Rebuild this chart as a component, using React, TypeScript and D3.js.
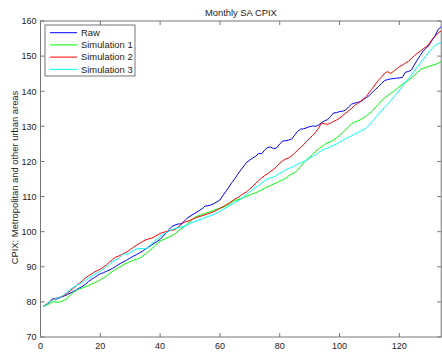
import React, { useEffect, useRef } from 'react';
import { select, scaleLinear, line } from 'd3';

// monthly index values, months 1..134
const raw = [
  78.7, 79.2, 79.8, 80.9, 80.7, 81.0, 81.4, 81.7, 82.1, 82.5,
  83.0, 83.4, 84.0, 84.4, 85.0, 85.8, 86.4, 86.9, 87.5, 88.0,
  88.3, 88.7, 89.1, 89.5, 90.0, 90.6, 91.1, 91.5, 92.0, 92.5,
  93.0, 93.4, 93.9, 94.4, 95.0, 95.5, 96.1, 96.7, 97.2, 97.8,
  98.7, 99.6, 100.6, 101.5, 101.9, 102.2, 102.2, 102.9, 103.8, 104.4,
  104.9, 105.4, 106.0, 106.5, 107.3, 107.4, 107.6, 108.0, 108.5, 109.0,
  110.3, 111.5, 112.7, 114.0, 115.1, 116.4, 117.6, 118.7, 119.8, 120.4,
  121.0, 121.5, 122.3, 122.2, 123.3, 124.0, 124.1, 123.6, 123.9, 125.0,
  125.8, 125.9, 126.1, 126.4, 127.5, 128.6, 129.2, 129.3, 129.6, 129.9,
  130.1, 130.0, 130.4, 131.0, 131.6, 131.9, 132.8, 133.8, 133.9, 134.2,
  134.3, 134.6, 135.5, 136.3, 136.6, 136.8, 137.0, 137.6, 138.2, 138.8,
  139.7, 140.5, 141.3, 142.2, 143.0, 143.3, 143.5, 143.6, 143.7, 143.8,
  143.9, 145.4, 145.6, 146.0, 147.5, 148.9, 150.2, 151.5, 152.3, 153.2,
  154.6, 155.9, 157.6, 158.4,
];

const sim1 = [
  78.7, 79.1, 79.5, 80.0, 80.0, 79.9, 80.1, 80.5, 81.0, 82.0,
  82.7, 83.3, 83.7, 84.0, 84.3, 84.6, 85.0, 85.4, 85.8, 86.3,
  86.8, 87.4, 88.0, 88.6, 89.2, 89.7, 90.2, 90.7, 91.1, 91.5,
  91.8, 92.1, 92.4, 92.9, 93.6, 94.3, 95.0, 95.8, 96.5, 97.3,
  97.7, 98.1, 98.5, 98.9, 99.4, 100.2, 100.8, 101.4, 102.1, 102.9,
  103.6, 104.3, 104.6, 104.9, 105.2, 105.5, 105.8, 106.1, 106.4, 106.7,
  106.9, 107.3, 107.8, 108.4, 108.9, 109.1, 109.4, 109.8, 110.1, 110.4,
  110.8, 111.1, 111.5, 111.9, 112.4, 112.8, 113.2, 113.6, 113.9, 114.4,
  114.8, 115.2, 115.9, 116.4, 116.8, 117.6, 118.6, 119.6, 120.5, 121.2,
  122.0, 122.9, 123.6, 124.2, 124.8, 125.3, 125.6, 126.1, 126.7, 127.4,
  128.2, 129.0, 129.9, 130.7, 131.2, 131.5, 131.9, 132.4, 133.0, 133.7,
  134.4, 135.4, 136.3, 137.2, 138.1, 138.7, 139.3, 139.9, 140.6, 141.3,
  141.9, 142.5, 143.1, 143.8, 144.5, 145.3, 146.1, 146.5, 146.8, 147.1,
  147.4, 147.6, 148.0, 148.4,
];

const sim2 = [
  78.7, 79.4, 80.0, 80.6, 81.0, 81.2, 81.5, 81.9, 82.5, 83.2,
  83.9, 84.6, 85.3, 86.0, 86.8, 87.4, 87.9, 88.5, 88.9, 89.3,
  89.9, 90.5, 91.3, 92.0, 92.7, 93.0, 93.4, 93.9, 94.3, 94.9,
  95.5, 96.1, 96.6, 97.1, 97.6, 97.9, 98.1, 98.5, 99.0, 99.5,
  99.8, 100.0, 100.2, 100.4, 100.6, 101.3, 102.0, 102.7, 102.9, 103.2,
  103.6, 104.0, 104.3, 104.5, 104.8, 105.1, 105.4, 105.7, 106.2, 106.6,
  107.1, 107.6, 108.1, 108.7, 109.3, 109.7, 110.3, 110.9, 111.4, 112.2,
  112.9, 113.8, 114.6, 115.3, 116.0, 116.5, 117.2, 117.8, 118.6, 119.5,
  120.2, 120.7, 121.0, 121.6, 122.4, 123.2, 124.0, 124.8, 125.7, 126.6,
  127.4, 128.3, 129.5, 131.0, 130.7, 130.6, 130.9, 131.4, 131.8, 132.3,
  133.0, 133.7, 134.4, 135.1, 135.9, 136.5, 137.1, 137.8, 138.6, 139.7,
  140.8, 142.0, 143.1, 144.0, 145.0, 145.6, 145.1, 145.6, 146.3, 147.0,
  147.4, 148.0, 148.5, 149.3, 150.1, 150.8, 151.4, 152.1, 152.7, 153.6,
  154.8, 155.7, 156.6, 157.2,
];

const sim3 = [
  78.7, 79.3, 79.9, 80.5, 80.9, 81.2, 81.5, 82.1, 82.8, 83.6,
  84.2, 84.6, 85.1, 85.6, 86.2, 86.7, 87.2, 87.8, 88.3, 88.8,
  89.4, 90.0, 90.7, 91.4, 91.9, 92.3, 93.2, 93.7, 93.6, 94.1,
  94.6, 95.0, 95.2, 95.2, 95.1, 95.6, 96.4, 97.2, 97.9, 98.6,
  99.2, 99.7, 100.2, 100.6, 100.9, 101.1, 101.3, 101.5, 101.9, 102.4,
  102.7, 103.0, 103.3, 103.6, 104.0, 104.3, 104.6, 104.9, 105.3, 105.8,
  106.3, 106.8, 107.3, 107.8, 108.3, 108.8, 109.3, 109.9, 110.6, 111.4,
  112.0, 112.6, 113.2, 113.8, 114.5, 115.0, 115.4, 115.6, 116.1, 116.6,
  117.0, 117.6, 118.0, 118.3, 118.8, 119.2, 119.6, 119.9, 120.4, 120.9,
  121.4, 121.9, 122.5, 123.1, 123.5, 123.8, 124.2, 124.6, 125.0, 125.5,
  126.0, 126.5, 126.9, 127.3, 127.8, 128.2, 128.6, 129.0, 129.6, 130.4,
  131.4, 132.5, 133.5, 134.4, 135.4, 136.3, 137.1, 138.2, 139.2, 140.3,
  141.4, 142.6, 143.5, 144.6, 145.8, 146.9, 148.0, 149.1, 150.2, 151.3,
  152.2, 153.1, 153.6, 153.8,
];

const seriesNames = ['Raw', 'Simulation 1', 'Simulation 2', 'Simulation 3'];
const seriesColors = ['#0000ff', '#00ff00', '#ff0000', '#00ffff'];
const xTicks = [0, 20, 40, 60, 80, 100, 120];
const yTicks = [70, 80, 90, 100, 110, 120, 130, 140, 150, 160];

const App = () => {
  const svgRef = useRef(null);

  useEffect(() => {
    const svg = select(svgRef.current);
    svg.selectAll('*').remove();

    const left = 40.5;
    const right = 441.2;
    const top = 21;
    const bottom = 337;
    const font = 'Liberation Sans, Arial, Helvetica, sans-serif';
    const axisColor = '#767676';
    const textColor = '#222';
    const fs = 9.4;
    const tickFs = 9;

    const xScale = scaleLinear().domain([0, 134]).range([left, right]);
    const yScale = scaleLinear().domain([70, 160]).range([bottom, top]);

    svg.append('rect').attr('width', 442).attr('height', 353).attr('fill', '#fff');

    // series
    const allSeries = [raw, sim1, sim2, sim3];
    const pathGen = line<number>()
      .x((_, i) => xScale(i + 1))
      .y((d) => yScale(d));
    allSeries.forEach((s, k) => {
      svg
        .append('path')
        .attr('d', pathGen(s))
        .attr('fill', 'none')
        .attr('stroke', seriesColors[k])
        .attr('stroke-width', 1);
    });

    // axes box
    svg
      .append('rect')
      .attr('x', left)
      .attr('y', top)
      .attr('width', right - left)
      .attr('height', bottom - top)
      .attr('fill', 'none')
      .attr('stroke', axisColor)
      .attr('stroke-width', 1);

    const tickLen = 4;
    xTicks.forEach((t) => {
      const x = xScale(t);
      svg.append('line').attr('x1', x).attr('x2', x).attr('y1', bottom).attr('y2', bottom - tickLen).attr('stroke', axisColor);
      svg.append('line').attr('x1', x).attr('x2', x).attr('y1', top).attr('y2', top + tickLen).attr('stroke', axisColor);
      svg
        .append('text')
        .attr('x', x)
        .attr('y', bottom + 11.5)
        .attr('text-anchor', 'middle')
        .attr('font-family', font)
        .attr('font-size', tickFs)
        .attr('fill', textColor)
        .text(t);
    });
    yTicks.forEach((t) => {
      const y = yScale(t);
      svg.append('line').attr('x1', left).attr('x2', left + tickLen).attr('y1', y).attr('y2', y).attr('stroke', axisColor);
      svg.append('line').attr('x1', right - tickLen).attr('x2', right).attr('y1', y).attr('y2', y).attr('stroke', axisColor);
      svg
        .append('text')
        .attr('x', left - 4)
        .attr('y', y + 3.3)
        .attr('text-anchor', 'end')
        .attr('font-family', font)
        .attr('font-size', tickFs)
        .attr('fill', textColor)
        .text(t);
    });

    // title
    svg
      .append('text')
      .attr('x', (left + right) / 2)
      .attr('y', 15.5)
      .attr('text-anchor', 'middle')
      .attr('font-family', font)
      .attr('font-size', fs)
      .attr('fill', textColor)
      .text('Monthly SA CPIX');

    // y label
    svg
      .append('text')
      .attr('transform', `translate(17.5, 177.5) rotate(-90)`)
      .attr('text-anchor', 'middle')
      .attr('font-family', font)
      .attr('font-size', fs)
      .attr('fill', textColor)
      .text('CPIX: Metropolitan and other urban areas');

    // legend
    const lg = svg.append('g');
    lg.append('rect')
      .attr('x', 45)
      .attr('y', 25)
      .attr('width', 90)
      .attr('height', 51)
      .attr('fill', '#fff')
      .attr('stroke', axisColor);
    seriesNames.forEach((name, k) => {
      const y = 32.7 + k * 12.2;
      lg.append('line')
        .attr('x1', 50)
        .attr('x2', 77)
        .attr('y1', y)
        .attr('y2', y)
        .attr('stroke', seriesColors[k]);
      lg.append('text')
        .attr('x', 81)
        .attr('y', y + 3.3)
        .attr('font-family', font)
        .attr('font-size', fs)
        .attr('fill', textColor)
        .text(name);
    });
  }, []);

  return (
    <svg
      ref={svgRef}
      width={442}
      height={353}
      style={{ position: 'absolute', left: 0, top: 0 }}
    ></svg>
  );
};

export default App;
